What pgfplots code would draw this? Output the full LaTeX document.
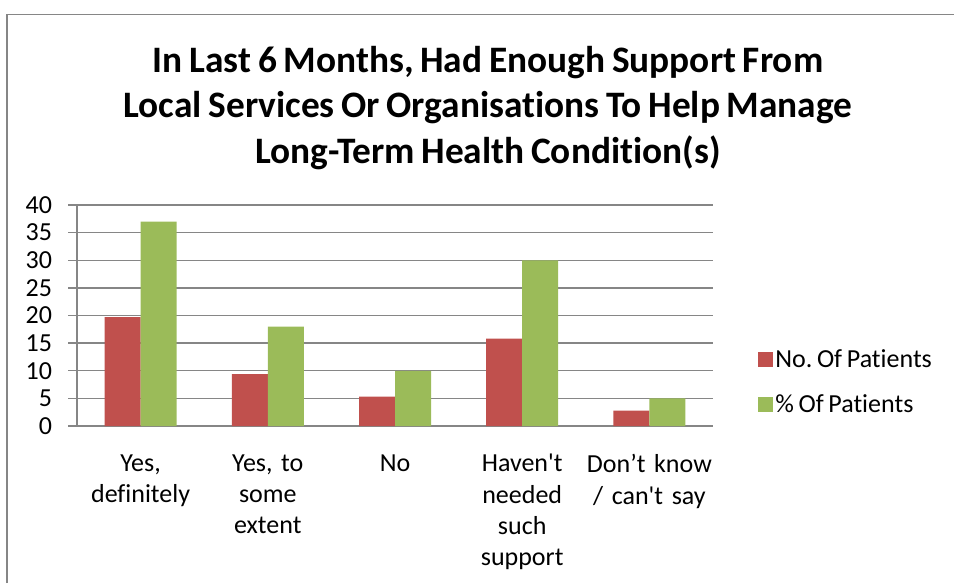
\documentclass[border=0pt]{standalone}
\usepackage{fontspec}
\setmainfont{Carlito}[Ligatures={NoCommon}, WordSpace=0.8]
\usepackage{pgfplots}
\pgfplotsset{compat=1.18}

\definecolor{barred}{HTML}{C0504D}
\definecolor{bargreen}{HTML}{9BBB59}
\definecolor{gridgray}{HTML}{868686}

\begin{document}
\frenchspacing
\begin{tikzpicture}
% page = 954 x 583 px, 1px = 0.75pt, origin top left
\path[use as bounding box] (0pt,0pt) rectangle (715.5pt,-437.25pt);
\draw[gridgray, line width=1.2pt] (5.25pt,-437.25pt) -- (5.25pt,-10.9pt) -- (715.5pt,-10.9pt);

\node[font=\bfseries\fontsize{28}{34.2}\selectfont, align=center, anchor=north]
  at (366pt,-31pt)
  {In Last 6 Months, Had Enough Support From\\
   Local Services Or Organisations To Help Manage\\
   Long-Term Health Condition(s)};

\begin{axis}[
  at={(57.75pt,-319.5pt)}, anchor=south west,
  scale only axis,
  width=477pt, height=165.75pt,
  xmin=-0.5, xmax=4.5,
  ymin=0, ymax=40,
  ytick={0,5,...,40},
  xtick={0,1,2,3,4},
  xticklabels={{Yes,\\definitely},{Yes, to\\some\\extent},{No},{Haven\textquotesingle t\\needed\\such\\support},{Don’t know\\/ can\textquotesingle t say}},
  minor xtick={-0.5,0.5,...,4.5},
  ybar=0pt, bar width=27pt,
  axis x line*=bottom, axis y line*=left,
  axis line style={gridgray, line width=1pt, -},
  ymajorgrids, grid style={gridgray, line width=1pt},
  major tick length=6.75pt,
  tick align=outside,
  tick style={gridgray, line width=1pt},
  xtick style={draw=none},
  minor x tick style={gridgray, line width=1pt},
  minor tick length=6pt,
  /pgf/number format/assume math mode=true,
  ticklabel style={font=\fontsize{19.5}{23.5}\selectfont},
  yticklabel style={xshift=-8.5pt},
  xticklabel style={align=center, text width=100pt, yshift=-11pt},
  legend style={at={(1.064,0.2)}, anchor=west, draw=none, fill=none,
    font=\fontsize{19.5}{23.5}\selectfont, row sep=15pt,
    /tikz/every odd column/.style={}},
  legend cell align=left,
  legend image code/.code={\fill[#1] (0pt,-5.5pt) rectangle (11pt,5.5pt);},
]
\addplot[fill=barred, draw=none] coordinates {(0,19.7) (1,9.4) (2,5.3) (3,15.8) (4,2.8)};
\addplot[fill=bargreen, draw=none] coordinates {(0,37) (1,18) (2,10) (3,30) (4,5)};
\legend{No. Of Patients, \% Of Patients}
\end{axis}
\end{tikzpicture}
\end{document}
